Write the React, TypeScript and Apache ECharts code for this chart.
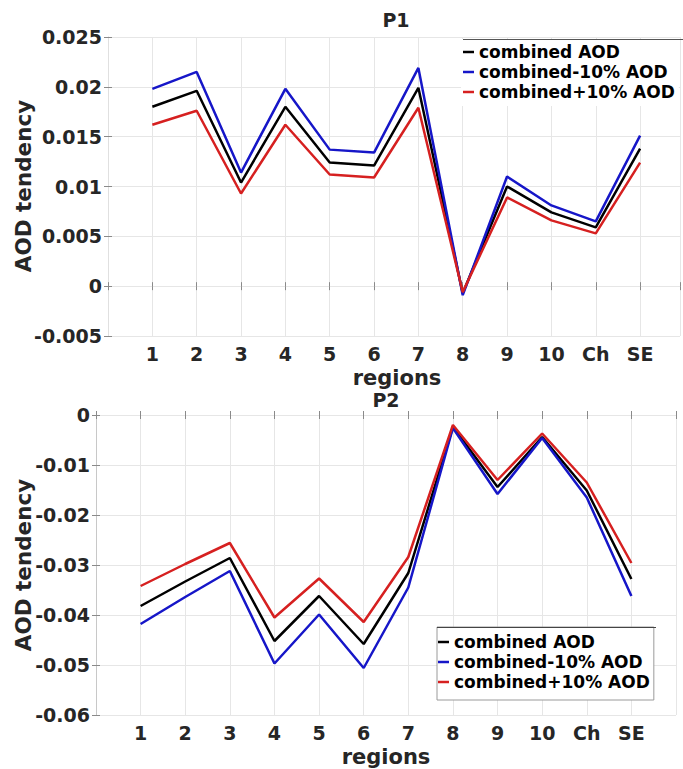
import React, { useEffect, useRef } from "react";
import * as echarts from "echarts";

const regions = ["1", "2", "3", "4", "5", "6", "7", "8", "9", "10", "Ch", "SE"];
const seriesNames = ["combined AOD", "combined-10% AOD", "combined+10% AOD"];
const colors = ["#000000", "#1616c8", "#d62020"];

const p1Combined = [0.018, 0.0196, 0.0104, 0.018, 0.0124, 0.0121, 0.0199, -0.0007, 0.01, 0.0074, 0.0059, 0.0138];
const p1Minus10 = [0.0198, 0.0215, 0.0114, 0.0198, 0.0137, 0.0134, 0.0219, -0.0009, 0.011, 0.0081, 0.0065, 0.0151];
const p1Plus10 = [0.0162, 0.0176, 0.0093, 0.0162, 0.0112, 0.0109, 0.0179, -0.0006, 0.0089, 0.0066, 0.0053, 0.0124];

const p2Combined = [-0.0382, -0.0333, -0.0286, -0.0452, -0.0362, -0.0458, -0.0316, -0.0024, -0.0144, -0.0044, -0.0151, -0.0328];
const p2Minus10 = [-0.0418, -0.0364, -0.0312, -0.0497, -0.0399, -0.0506, -0.0345, -0.0026, -0.0158, -0.0046, -0.0165, -0.0362];
const p2Plus10 = [-0.0342, -0.0298, -0.0256, -0.0405, -0.0327, -0.0414, -0.0284, -0.002, -0.013, -0.0037, -0.0135, -0.0296];

const p1Series = [p1Combined, p1Minus10, p1Plus10];
const p2Series = [p2Combined, p2Minus10, p2Plus10];

const p1YTicks = { min: -0.005, max: 0.025, interval: 0.005 };
const p2YTicks = { min: -0.06, max: 0, interval: 0.01 };

const FONT = '"DejaVu Sans", "Noto Sans", sans-serif';
const TXT = "#262626";

function fmtY(v: number) {
  return String(parseFloat(v.toFixed(3)));
}

export default function App() {
  const ref = useRef<HTMLDivElement>(null);
  useEffect(() => {
    if (!ref.current) return;
    const chart = echarts.init(ref.current, null, { renderer: "svg" });
    const xAxisBase = (gridIndex: number, max: number) => ({
      type: "value",
      gridIndex,
      min: 0,
      max,
      interval: 1,
      axisLine: { show: false },
      axisTick: { show: true, inside: true, length: 4, lineStyle: { color: "#8a8a8a" } },
      splitLine: { show: true, lineStyle: { color: "#e6e6e6", width: 1 } },
      axisLabel: {
        margin: 8,
        color: TXT,
        fontFamily: FONT,
        fontWeight: "bold",
        fontSize: 19,
        formatter: (v: number) => (Number.isInteger(v) && v >= 1 && v <= 12 ? regions[v - 1] : ""),
      },
    });
    const xAxisTop = (gridIndex: number, max: number) => ({
      type: "value",
      gridIndex,
      position: "top",
      min: 0,
      max,
      interval: 1,
      axisLine: { show: false },
      axisTick: { show: true, inside: true, length: 4, lineStyle: { color: "#8a8a8a" } },
      splitLine: { show: false },
      axisLabel: { show: false },
    });
    const yAxisBase = (gridIndex: number, t: any, lineColor: string) => ({
      type: "value",
      gridIndex,
      min: t.min,
      max: t.max,
      interval: t.interval,
      axisLine: { show: true, lineStyle: { color: lineColor } },
      axisTick: { show: true, inside: true, length: 4, lineStyle: { color: "#8a8a8a" } },
      splitLine: { show: true, lineStyle: { color: "#e6e6e6", width: 1 } },
      axisLabel: {
        margin: 6,
        color: TXT,
        fontFamily: FONT,
        fontWeight: "bold",
        fontSize: 19,
        formatter: fmtY,
      },
    });
    const yAxisRight = (gridIndex: number, t: any, lineColor: string) => ({
      type: "value",
      gridIndex,
      position: "right",
      min: t.min,
      max: t.max,
      interval: t.interval,
      axisLine: { show: true, lineStyle: { color: lineColor } },
      axisTick: { show: true, inside: true, length: 4, lineStyle: { color: "#8a8a8a" } },
      splitLine: { show: false },
      axisLabel: { show: false },
    });
    const mkSeries = (data: number[][], gi: number) =>
      data.map((vals, k) => ({
        name: seriesNames[k],
        type: "line",
        xAxisIndex: gi,
        yAxisIndex: gi,
        symbol: "none",
        color: colors[k],
        lineStyle: { color: colors[k], width: 2.5 },
        data: vals.map((v, i) => [i + 1, v]),
      }));
    const legendBase = {
      orient: "vertical",
      icon: "rect",
      itemWidth: 11,
      itemHeight: 2.5,
      itemGap: 0,
      backgroundColor: "#ffffff",
      data: seriesNames,
      selectedMode: false,
    };
    const txt = (text: string, x: number, y: number, size: number, rot = 0) => ({
      type: "text",
      x,
      y,
      rotation: rot,
      z: 10,
      style: {
        text,
        fill: TXT,
        font: `bold ${size}px ${FONT}`,
        textAlign: "center",
        textVerticalAlign: "middle",
        align: "center",
        verticalAlign: "middle",
      },
    });
    chart.setOption({
      animation: false,
      backgroundColor: "#ffffff",
      grid: [
        { left: 108, width: 574, top: 37, height: 299 },
        { left: 96, width: 580, top: 415, height: 300 },
      ],
      xAxis: [xAxisBase(0, 12.9), xAxisBase(1, 13), xAxisTop(0, 12.9), xAxisTop(1, 13)],
      yAxis: [
        yAxisBase(0, p1YTicks, "#e0e0e0"),
        yAxisBase(1, p2YTicks, "#8c8c8c"),
        yAxisRight(0, p1YTicks, "#e0e0e0"),
        yAxisRight(1, p2YTicks, "#c8c8c8"),
      ],
      legend: [
        {
          ...legendBase,
          left: 461,
          top: 39,
          padding: [3, 4, 4, 2],
          borderWidth: 0,
          textStyle: { color: "#000", fontFamily: FONT, fontWeight: "bold", fontSize: 17, lineHeight: 20 },
        },
        {
          ...legendBase,
          left: 437,
          top: 627,
          padding: [5, 4, 8, 1],
          borderColor: "#9a9a9a",
          borderWidth: 1,
          textStyle: { color: "#000", fontFamily: FONT, fontWeight: "bold", fontSize: 17, lineHeight: 20 },
        },
      ],
      series: [...mkSeries(p1Series, 0), ...mkSeries(p2Series, 1)],
      graphic: [
        { type: "line", z: 10, shape: { x1: 463, y1: 39.5, x2: 683, y2: 39.5 }, style: { stroke: "#555", lineWidth: 1 } },
        { type: "line", z: 10, shape: { x1: 437, y1: 627.5, x2: 656, y2: 627.5 }, style: { stroke: "#444", lineWidth: 1 } },
        txt("P1", 396, 20, 19),
        txt("P2", 386, 400, 19),
        txt("regions", 397, 378, 21),
        txt("regions", 386, 757, 21),
        txt("AOD tendency", 23.5, 186, 21.5, Math.PI / 2),
        txt("AOD tendency", 23.5, 565, 21.5, Math.PI / 2),
      ],
    });
    return () => chart.dispose();
  }, []);
  return (
    <div
      ref={ref}
      style={{ position: "absolute", left: 0, top: 0, width: 683, height: 769 }}
    />
  );
}
